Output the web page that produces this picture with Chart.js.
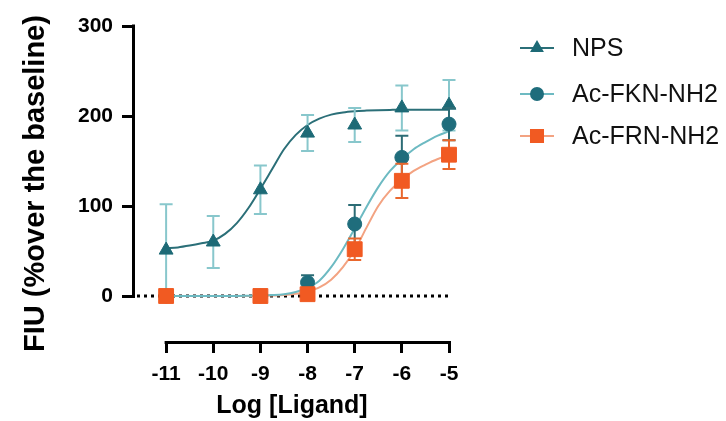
<!DOCTYPE html>
<html>
<head>
<meta charset="utf-8">
<script src="https://cdn.jsdelivr.net/npm/chart.js@4.4.1/dist/chart.umd.min.js"></script>
<style>
  html, body { margin: 0; padding: 0; background: #ffffff; }
  #wrap { width: 726px; height: 421px; }
</style>
</head>
<body>
<div id="wrap"><canvas id="c" width="726" height="421"></canvas></div>
<script>
// ---------- data ----------
const xTickValues = [-11, -10, -9, -8, -7, -6, -5];
const yTickValues = [0, 100, 200, 300];

const seriesNames = ['NPS', 'Ac-FKN-NH2', 'Ac-FRN-NH2'];

// measured points (mean ± error)
const npsX   = [-11, -10, -9, -8, -7, -6, -5];
const npsY   = [51, 60, 118, 181, 190, 209, 212];
const npsErr = [51, 29, 27, 20, 19, 25, 28];

const fknX   = [-11, -9, -8, -7, -6, -5];
const fknY   = [0, 0, 15, 80, 154, 191];
const fknErr = [0, 0, 8, 21, 24, 18];

const frnX   = [-11, -9, -8, -7, -6, -5];
const frnY   = [0, 0, 2, 52, 128, 157];
const frnErr = [0, 0, 3, 12, 19, 16];

// fitted curves at steps of 0.25 log units
const curveX = [-11, -10.75, -10.5, -10.25, -10, -9.75, -9.5, -9.25, -9,
                -8.75, -8.5, -8.25, -8, -7.75, -7.5, -7.25, -7,
                -6.75, -6.5, -6.25, -6, -5.75, -5.5, -5.25, -5];
const npsCurve = [53, 54, 56, 58.5, 61.5, 69, 81, 98, 119,
                  141, 163, 179, 190, 197, 201.5, 204, 205.3,
                  206, 206.5, 206.8, 207, 207, 207, 207, 207];
const fknCurve = [0, 0, 0, 0, 0, 0, 0, 0.2, 0.5,
                  1, 2, 4.5, 9, 17, 32, 52, 75,
                  99, 121, 139, 152, 163, 171, 178, 183];
const frnCurve = [0, 0, 0, 0, 0, 0, 0, 0.1, 0.2,
                  0.5, 1, 2.5, 5, 9.5, 18, 32, 51,
                  76, 100, 117, 129, 139, 146, 152, 156];

// ---------- styles ----------
const C = {
  npsLine: '#2b6f78', npsMark: '#1d6a76', npsErr: '#88c7cc',
  fknLine: '#6dbac2', fknMark: '#1f6d7c', fknErr: '#2c6c75',
  frnLine: '#f3a382', frnMark: '#f15a22', frnErr: '#e9672d'
};
const FONT = '"Liberation Sans", Arial, Helvetica, sans-serif';

const pts = (xs, ys) => xs.map((x, i) => ({ x: x, y: ys[i] }));

function curveDs(label, ys, color, order) {
  return {
    label: label, data: pts(curveX, ys), borderColor: color, backgroundColor: color,
    borderWidth: 2, pointRadius: 0, cubicInterpolationMode: 'monotone',
    showLine: true, fill: false, order: order, clip: false
  };
}
function markDs(label, xs, ys, errs, style, radius, color, errColor, order) {
  return {
    label: label, data: pts(xs, ys), errors: errs, errColor: errColor,
    showLine: false, pointStyle: style, pointRadius: radius,
    pointBackgroundColor: color, pointBorderColor: color, pointBorderWidth: 1,
    order: order, clip: false
  };
}

const datasets = [
  curveDs(seriesNames[2] + ' fit', frnCurve, C.frnLine, 10),
  curveDs(seriesNames[1] + ' fit', fknCurve, C.fknLine, 9),
  curveDs(seriesNames[0] + ' fit', npsCurve, C.npsLine, 8),
  markDs(seriesNames[0], npsX, npsY, npsErr, 'triangle', 8, C.npsMark, C.npsErr, 4),
  markDs(seriesNames[1], fknX, fknY, fknErr, 'circle', 7, C.fknMark, C.fknErr, 3),
  markDs(seriesNames[2], frnX, frnY, frnErr, 'rect', 10.5, C.frnMark, C.frnErr, 2)
];

const legendItems = [
  { text: seriesNames[0], line: C.npsLine, mark: C.npsMark, style: 'triangle', r: 6 },
  { text: seriesNames[1], line: C.fknLine, mark: C.fknMark, style: 'circle', r: 6 },
  { text: seriesNames[2], line: C.frnLine, mark: C.frnMark, style: 'rect', r: 8.5 }
];

const customPlugin = {
  id: 'custom',
  beforeDatasetsDraw(chart) {
    const ctx = chart.ctx, xs = chart.scales.x, ys = chart.scales.y, a = chart.chartArea;
    ctx.save();
    ctx.strokeStyle = '#000';
    ctx.lineWidth = 3;
    ctx.lineCap = 'butt';
    // y axis line (0 .. 300)
    ctx.beginPath();
    ctx.moveTo(a.left - 1.5, ys.getPixelForValue(300) - 1.5);
    ctx.lineTo(a.left - 1.5, ys.getPixelForValue(0) + 1.5);
    ctx.stroke();
    // x axis line (-11 .. -5), offset below the plot
    ctx.beginPath();
    ctx.moveTo(xs.getPixelForValue(-11) - 1.5, a.bottom + 1.5);
    ctx.lineTo(xs.getPixelForValue(-5) + 1.5, a.bottom + 1.5);
    ctx.stroke();
    // dotted baseline at 0
    ctx.setLineDash([3, 4]);
    ctx.beginPath();
    const y0 = ys.getPixelForValue(0);
    ctx.moveTo(a.left + 2, y0);
    ctx.lineTo(xs.getPixelForValue(-5), y0);
    ctx.stroke();
    ctx.restore();
  },
  beforeDatasetDraw(chart, args) {
    const ds = chart.data.datasets[args.index];
    if (!ds.errors) return;
    const ctx = chart.ctx, ys = chart.scales.y;
    ctx.save();
    ctx.strokeStyle = ds.errColor;
    ctx.lineWidth = 2;
    args.meta.data.forEach((el, i) => {
      const e = ds.errors[i];
      if (!e) return;
      const v = ds.data[i].y;
      const yt = ys.getPixelForValue(v + e), yb = ys.getPixelForValue(Math.max(v - e, 0));
      ctx.beginPath();
      ctx.moveTo(el.x, yt); ctx.lineTo(el.x, yb);
      ctx.moveTo(el.x - 6.5, yt); ctx.lineTo(el.x + 6.5, yt);
      if (v - e > 0.5) { ctx.moveTo(el.x - 6.5, yb); ctx.lineTo(el.x + 6.5, yb); }
      ctx.stroke();
    });
    ctx.restore();
  },
  afterDraw(chart) {
    const ctx = chart.ctx;
    const ys = [48, 94, 136];
    ctx.save();
    legendItems.forEach((it, i) => {
      const y = ys[i];
      ctx.strokeStyle = it.line; ctx.lineWidth = 2;
      ctx.beginPath(); ctx.moveTo(520, y); ctx.lineTo(554, y); ctx.stroke();
      ctx.fillStyle = it.mark; ctx.strokeStyle = it.mark;
      Chart.helpers.drawPoint(ctx, { pointStyle: it.style, radius: it.r, rotation: 0, borderWidth: 1 }, 537, y);
      ctx.fillStyle = '#111';
      ctx.font = '25px ' + FONT;
      ctx.textBaseline = 'middle';
      ctx.textAlign = 'left';
      ctx.fillText(it.text, 572, y + 1);
    });
    ctx.restore();
  }
};

new Chart(document.getElementById('c'), {
  type: 'line',
  data: { datasets: datasets },
  options: {
    responsive: false, animation: false, devicePixelRatio: 1,
    layout: { padding: { left: 0, right: 277, top: 26, bottom: 0 } },
    plugins: { legend: { display: false }, tooltip: { enabled: false } },
    scales: {
      x: {
        type: 'linear', min: -11.66, max: -5,
        afterBuildTicks: s => { s.ticks = xTickValues.map(v => ({ value: v })); },
        afterFit: s => { s.height = 80; },
        ticks: { color: '#000', padding: 9, font: { family: FONT, size: 21, weight: 'bold' }, callback: v => String(v) },
        grid: { drawOnChartArea: false, drawTicks: true, tickLength: 12, color: '#000', lineWidth: 3 },
        border: { display: false },
        title: { display: true, text: 'Log [Ligand]', color: '#000', font: { family: FONT, size: 25, weight: 'bold' }, padding: { top: 0, bottom: 0 } }
      },
      y: {
        type: 'linear', min: -50, max: 300,
        afterBuildTicks: s => { s.ticks = yTickValues.map(v => ({ value: v })); },
        afterFit: s => { s.width = 135; },
        ticks: { color: '#000', padding: 9, font: { family: FONT, size: 21, weight: 'bold' } },
        grid: { drawOnChartArea: false, drawTicks: true, tickLength: 13, color: '#000', lineWidth: 3 },
        border: { display: false },
        title: { display: true, text: 'FIU (%over the baseline)', color: '#000', font: { family: FONT, size: 29, weight: 'bold' }, padding: { top: 18.6, bottom: 0 } }
      }
    }
  },
  plugins: [customPlugin]
});
</script>
</body>
</html>
